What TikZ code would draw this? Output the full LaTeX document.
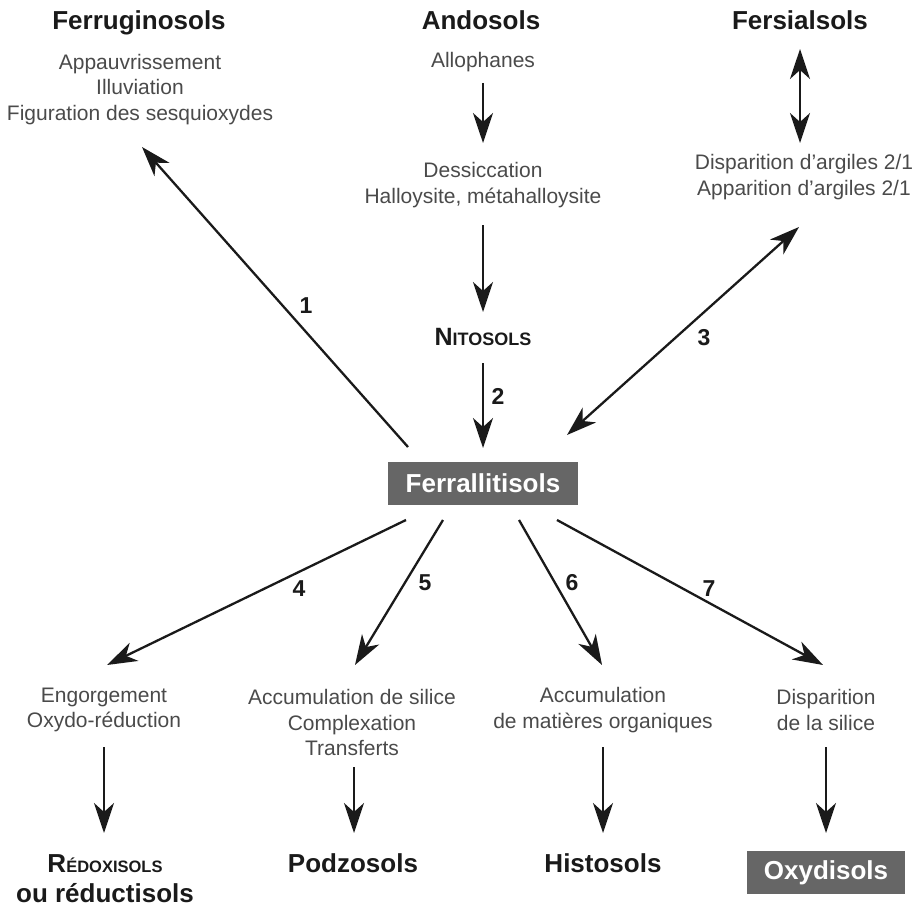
\documentclass[tikz,border=0pt]{standalone}
\usepackage{fontspec}
\setmainfont{Liberation Sans}
\usetikzlibrary{arrows.meta}
\definecolor{descgray}{HTML}{4A4A4A}
\definecolor{boxgray}{HTML}{666666}
\definecolor{ink}{HTML}{1A1A1A}
\newcommand\scA[1]{{\fontsize{18}{20}\selectfont #1}}
\newcommand\scB[1]{{\fontsize{16.5}{20}\selectfont #1}}
\tikzset{
  title/.style={font=\fontsize{26}{30}\selectfont\bfseries, text=ink, inner sep=0pt, anchor=base},
  desc/.style={font=\fontsize{21}{25.5}\selectfont, text=descgray, align=center, inner sep=0pt},
  num/.style={font=\fontsize{23}{26}\selectfont\bfseries, text=ink, inner sep=0pt},
  gbox/.style={fill=boxgray, text=white, font=\fontsize{26}{30}\selectfont\bfseries, inner sep=0pt},
  arr/.style={draw=ink, line width=2.3pt, -{Stealth[length=30pt,width=20pt,inset=9pt]}},
  darr/.style={draw=ink, line width=2.3pt, {Stealth[length=30pt,width=20pt,inset=9pt]}-{Stealth[length=30pt,width=20pt,inset=9pt]}},
}
\begin{document}
\begin{tikzpicture}[x=1pt,y=-1pt]
\useasboundingbox (0,0) rectangle (913,907);

% titles
\node[title] (ferrug) at (139,30) {Ferruginosols};
\node[title] (ando) at (481,30) {Andosols};
\node[title] (fersial) at (800,30) {Fersialsols};
\node[title] (nito) at (483,345) {{\fontsize{25}{30}\selectfont N}\scA{ITOSOLS}};
\node[title] (redox) at (105,872) {R\scB{ÉDOXISOLS}};
\node[title] (reduct) at (105,902) {ou réductisols};
\node[title] (podzo) at (353,872) {Podzosols};
\node[title] (histo) at (603,872) {Histosols};

% boxes
\node[gbox, minimum width=190pt, minimum height=43pt] (ferral) at (483,483.5) {Ferrallitisols};
\node[gbox, minimum width=158pt, minimum height=43pt] (oxydi) at (826,872.5) {Oxydisols};

% descriptions
\node[desc] (dferrug) at (140,89.5) {Appauvrissement\\Illuviation\\Figuration des sesquioxydes};
\node[desc, anchor=base] (dallo) at (483,68) {Allophanes};
\node[desc] (ddessic) at (483,185) {Dessiccation\\Halloysite, métahalloysite};
\node[desc] (dfersial) at (804,177) {Disparition d’argiles 2/1\\Apparition d’argiles 2/1};
\node[desc] (dengorg) at (104,710) {Engorgement\\Oxydo-réduction};
\node[desc] (dsilice) at (352,722.5) {Accumulation de silice\\Complexation\\Transferts};
\node[desc] (dmatier) at (603,710) {Accumulation\\de matières organiques};
\node[desc] (ddispar) at (826,710) {Disparition\\de la silice};

% numbers
\node[num] (n1) at (306,306) {1};
\node[num] (n2) at (498,396) {2};
\node[num] (n3) at (704,338) {3};
\node[num] (n4) at (299,589) {4};
\node[num] (n5) at (425,583) {5};
\node[num] (n6) at (572,583) {6};
\node[num] (n7) at (709,589) {7};

% connector end points
\coordinate (a1s) at (408,447);   \coordinate (a1e) at (142,147);
\coordinate (a2s) at (483,363);   \coordinate (a2e) at (483,448);
\coordinate (a3s) at (567,435);   \coordinate (a3e) at (799,227);
\coordinate (aas) at (483,83);    \coordinate (aae) at (483,143);
\coordinate (ads) at (483,225);   \coordinate (ade) at (483,312);
\coordinate (afs) at (800,49);    \coordinate (afe) at (800,143);
\coordinate (a4s) at (406,520);   \coordinate (a4e) at (107,665);
\coordinate (a5s) at (443,520);   \coordinate (a5e) at (355,665);
\coordinate (a6s) at (519,520);   \coordinate (a6e) at (602,665);
\coordinate (a7s) at (557,520);   \coordinate (a7e) at (823,665);
\coordinate (v1s) at (104,747);   \coordinate (v1e) at (104,833);
\coordinate (v2s) at (354,767);   \coordinate (v2e) at (354,833);
\coordinate (v3s) at (603,747);   \coordinate (v3e) at (603,833);
\coordinate (v4s) at (826,747);   \coordinate (v4e) at (826,833);

% connectors
\draw[arr] (a1s) -- (a1e);
\draw[arr] (a2s) -- (a2e);
\draw[darr] (a3s) -- (a3e);
\draw[arr] (aas) -- (aae);
\draw[arr] (ads) -- (ade);
\draw[darr] (afs) -- (afe);
\draw[arr] (a4s) -- (a4e);
\draw[arr] (a5s) -- (a5e);
\draw[arr] (a6s) -- (a6e);
\draw[arr] (a7s) -- (a7e);
\draw[arr] (v1s) -- (v1e);
\draw[arr] (v2s) -- (v2e);
\draw[arr] (v3s) -- (v3e);
\draw[arr] (v4s) -- (v4e);
\end{tikzpicture}
\end{document}
